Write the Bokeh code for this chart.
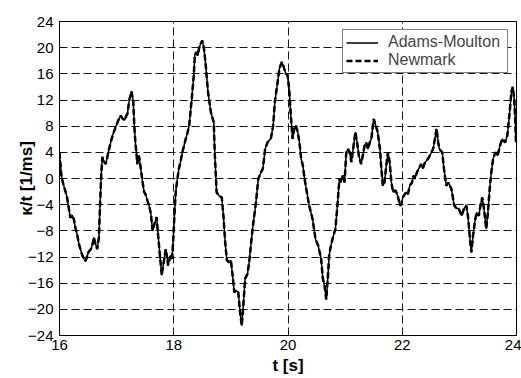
from bokeh.plotting import figure
from bokeh.models import Range1d, FixedTicker, Legend, LegendItem
from bokeh.embed import file_html
from bokeh.resources import INLINE

t_s = [16.00, 16.02, 16.035, 16.07, 16.105, 16.13, 16.16, 16.19, 16.22, 16.25, 16.28, 16.31, 16.34,
       16.40, 16.43, 16.456, 16.48, 16.51, 16.55, 16.58, 16.60, 16.63, 16.66, 16.69, 16.71, 16.73,
       16.75, 16.78, 16.81, 16.83, 16.86, 16.89, 16.93, 16.98, 17.03, 17.07, 17.10, 17.14, 17.17,
       17.19, 17.22, 17.26, 17.29, 17.31, 17.33, 17.35, 17.36, 17.39, 17.42, 17.45, 17.48, 17.51,
       17.54, 17.57, 17.60, 17.63, 17.66, 17.70, 17.72, 17.76, 17.79, 17.81, 17.83, 17.86, 17.89,
       17.90, 17.93, 17.95, 17.97, 17.99, 18.01, 18.035, 18.06, 18.09, 18.12, 18.15, 18.18, 18.21,
       18.24, 18.27, 18.31, 18.35, 18.37, 18.40, 18.42, 18.44, 18.47, 18.50, 18.53, 18.56, 18.60,
       18.65, 18.70, 18.72, 18.75, 18.79, 18.84, 18.87, 18.90, 18.93, 18.97, 19.00, 19.03, 19.06,
       19.09, 19.13, 19.16, 19.19, 19.21, 19.25, 19.29, 19.32, 19.38, 19.44, 19.48, 19.53, 19.56,
       19.60, 19.64, 19.70, 19.74, 19.77, 19.81, 19.85, 19.89, 19.92, 19.96, 19.99, 20.02, 20.05,
       20.08, 20.11, 20.14, 20.17, 20.20, 20.23, 20.26, 20.29, 20.33, 20.37, 20.43, 20.48, 20.53,
       20.58, 20.61, 20.64, 20.67, 20.70, 20.72, 20.75, 20.78, 20.83, 20.87, 20.90, 20.93, 20.96,
       20.99, 21.02, 21.05, 21.08, 21.11, 21.14, 21.18, 21.21, 21.24, 21.28, 21.31, 21.34, 21.37,
       21.40, 21.43, 21.46, 21.50, 21.53, 21.57, 21.61, 21.63, 21.66, 21.69, 21.72, 21.75, 21.78,
       21.81, 21.84, 21.88, 21.92, 21.96, 21.98, 22.01, 22.03, 22.07, 22.10, 22.13, 22.17, 22.20,
       22.22, 22.26, 22.30, 22.33, 22.36, 22.40, 22.45, 22.50, 22.54, 22.57, 22.60, 22.63, 22.65,
       22.70, 22.73, 22.77, 22.81, 22.86, 22.91, 22.95, 22.99, 23.04, 23.08, 23.12, 23.15, 23.18,
       23.21, 23.24, 23.27, 23.30, 23.34, 23.37, 23.40, 23.43, 23.47, 23.50, 23.53, 23.56, 23.59,
       23.63, 23.67, 23.71, 23.75, 23.80, 23.84, 23.88, 23.91, 23.935, 23.96, 23.98, 23.99, 24.00]

adams_moulton = [4.0, 1.8, 0.3, -1.0, -2.0, -2.8, -4.4, -6.0, -5.6, -6.2, -7.6, -8.6, -10.0,
                 -11.8, -12.3, -12.6, -12.0, -11.2, -10.8, -10.0, -9.0, -10.0, -10.8, -9.0, -4.0, 0.5,
                 3.3, 2.6, 2.2, 3.0, 4.2, 5.3, 6.6, 7.8, 8.9, 9.6, 9.2, 8.9, 9.6,
                 9.9, 11.9, 13.3, 11.9, 8.0, 5.3, 3.6, 2.2, 3.5, 1.7, -0.3, -2.0, -2.5,
                 -3.4, -4.2, -5.4, -8.0, -7.0, -5.9, -8.0, -12.0, -14.8, -13.5, -12.5, -10.8, -12.5,
                 -13.3, -12.2, -11.8, -12.3, -9.5, -6.0, -2.0, -0.3, 1.5, 2.6, 4.0, 5.0, 6.05,
                 7.0, 8.1, 11.7, 15.7, 19.0, 19.3, 18.8, 19.8, 20.6, 21.1, 19.8, 17.3, 13.2,
                 10.1, 8.6, 3.5, -2.1, -2.6, -2.9, -5.7, -9.7, -12.5, -12.8, -12.5, -14.8, -17.4,
                 -17.1, -17.4, -20.4, -22.5, -20.4, -15.3, -14.6, -12.8, -7.7, -3.6, -0.05, 1.0, 1.5,
                 4.5, 5.5, 6.1, 8.1, 11.7, 14.2, 16.8, 17.8, 17.2, 16.0, 15.9, 13.7, 9.6,
                 6.05, 7.6, 8.1, 7.1, 5.5, 3.0, 2.0, -0.05, -2.1, -4.1, -6.2, -9.2, -10.3,
                 -12.3, -15.3, -16.4, -18.5, -14.8, -11.8, -10.3, -9.2, -7.7, -3.6, 0.0, -0.6, 0.45,
                 -0.6, 4.0, 4.5, 4.0, 2.5, 4.5, 7.1, 5.5, 3.5, 2.2, 3.5, 5.0, 5.5,
                 4.5, 5.5, 6.1, 9.1, 8.3, 7.1, 4.5, 2.0, -1.1, -0.6, 2.0, 4.0, 2.5,
                 -0.6, -2.1, -1.8, -2.6, -4.1, -4.1, -2.9, -2.6, -2.1, -2.4, -1.1, -0.6, 0.45,
                 -0.05, 1.0, 1.7, 2.2, 1.5, 2.5, 3.0, 3.8, 4.5, 6.0, 7.6, 5.5, 4.5,
                 4.0, 1.5, -1.1, -0.6, -1.6, -4.1, -4.6, -4.6, -5.7, -4.6, -4.1, -5.7, -8.7,
                 -11.3, -8.7, -6.7, -5.2, -5.7, -4.1, -2.9, -4.6, -7.7, -5.2, -1.6, 1.0, 3.0,
                 4.0, 3.5, 5.0, 6.05, 5.5, 6.6, 10.1, 13.2, 14.0, 12.2, 8.6, 5.5, 6.0]

newmark = list(adams_moulton)

x_ticks = [16, 18, 20, 22, 24]
y_ticks = [-24, -20, -16, -12, -8, -4, 0, 4, 8, 12, 16, 20, 24]

FONT = "Liberation Sans"

p = figure(width=521, height=378, x_range=Range1d(16, 24), y_range=Range1d(-24, 24),
           output_backend="svg", toolbar_location=None,
           min_border_left=59, min_border_right=5, min_border_top=21, min_border_bottom=43)

p.background_fill_color = "white"
p.border_fill_color = "white"
p.outline_line_color = "black"
p.outline_line_width = 1
p.outline_line_alpha = 1

for ax, ticks in ((p.xaxis[0], x_ticks), (p.yaxis[0], y_ticks)):
    ax.ticker = FixedTicker(ticks=ticks)
    ax.axis_line_color = "black"
    ax.major_tick_line_color = "black"
    ax.major_tick_in = 4
    ax.major_tick_out = 0
    ax.minor_tick_line_color = None
    ax.major_label_text_font = FONT
    ax.major_label_text_font_size = "15px"
    ax.major_label_text_color = "black"
    ax.axis_label_text_font = FONT
    ax.axis_label_text_font_size = "17px"
    ax.axis_label_text_font_style = "bold"
    ax.axis_label_text_color = "black"

p.xaxis.axis_label = "t [s]"
p.yaxis.axis_label = "κ/t [1/ms]"
p.xaxis.major_label_standoff = 4
p.yaxis.major_label_standoff = 6
p.xaxis.axis_label_standoff = 3
p.yaxis.axis_label_standoff = -11

p.xgrid.ticker = FixedTicker(ticks=x_ticks)
p.ygrid.ticker = FixedTicker(ticks=y_ticks)
for g in (p.xgrid[0], p.ygrid[0]):
    g.grid_line_color = "black"
    g.grid_line_dash = "8 4"
    g.grid_line_width = 1
    g.grid_line_alpha = 0.9

r_am = p.line(t_s, adams_moulton, line_color="black", line_width=1.5)
r_nm = p.line(t_s, newmark, line_color="black", line_width=2.5, line_dash="6 3")

legend = Legend(items=[LegendItem(label="Adams-Moulton", renderers=[r_am]),
                       LegendItem(label="Newmark", renderers=[r_nm])],
                location="top_right")
legend.margin = 8
legend.padding = 3
legend.spacing = 0
legend.label_text_font = FONT
legend.label_text_font_size = "16px"
legend.label_height = 17
legend.glyph_height = 17
legend.glyph_width = 32
legend.label_width = 116
legend.label_standoff = 10
legend.border_line_color = "black"
legend.border_line_width = 1
legend.background_fill_color = "white"
legend.background_fill_alpha = 1
p.add_layout(legend)

open("out.html", "w").write(file_html(p, INLINE))
